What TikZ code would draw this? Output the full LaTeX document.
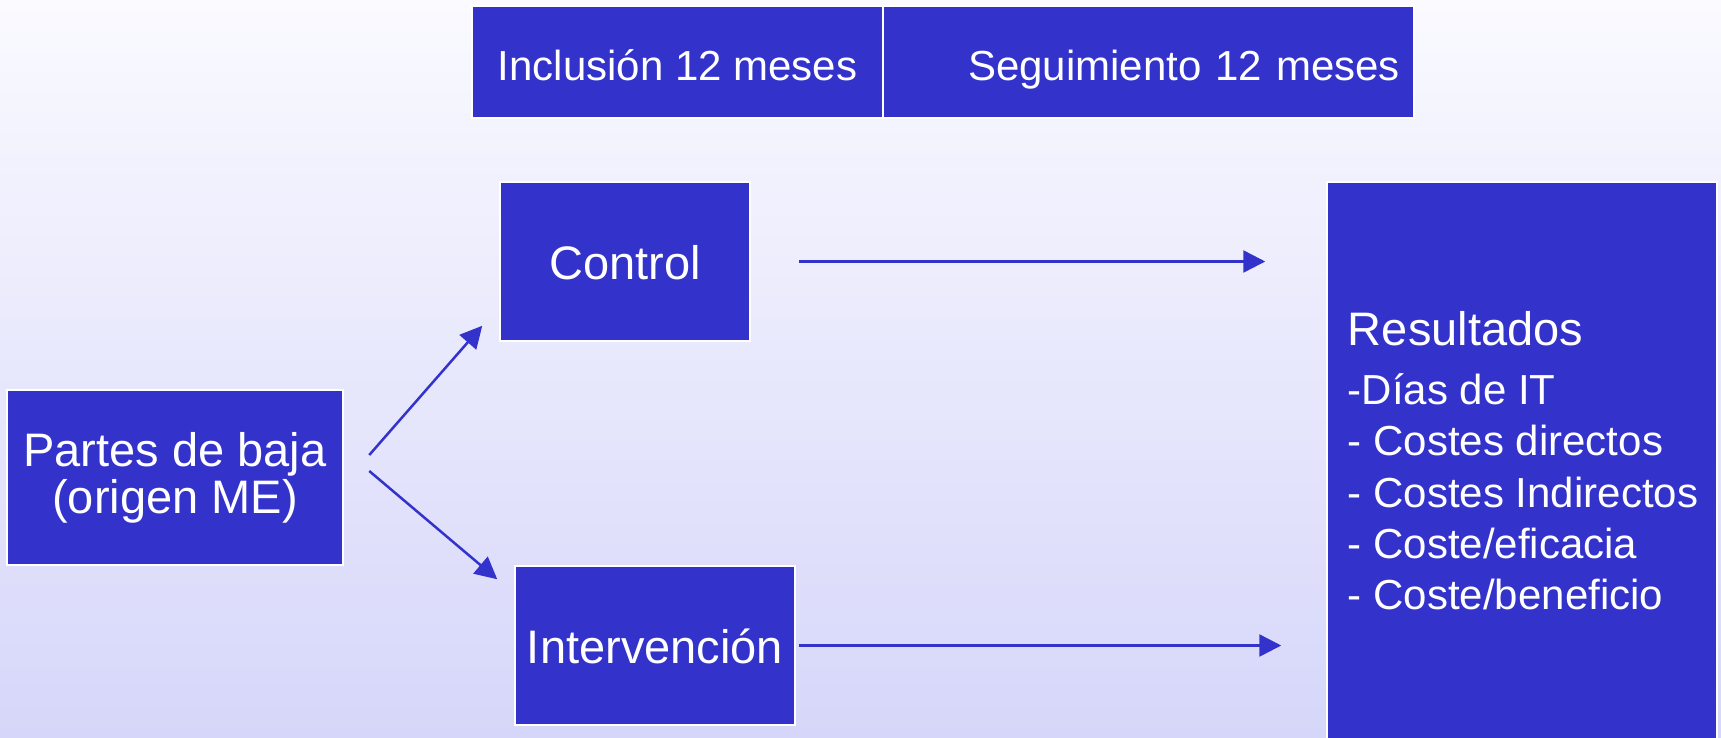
\documentclass[tikz,border=0pt]{standalone}
\usepackage{fontspec}
\setmainfont{Liberation Sans}
\usetikzlibrary{arrows.meta}
\definecolor{boxblue}{RGB}{51,51,204}
\definecolor{bgtop}{RGB}{250,250,255}
\definecolor{bgbot}{RGB}{214,214,250}
\begin{document}
\begin{tikzpicture}[x=1pt,y=-1pt,
  box/.style={rectangle, fill=boxblue, draw=white, line width=1.5pt, text=white, inner sep=0pt},
  big/.style={font=\fontsize{47}{47}\selectfont},
  small/.style={font=\fontsize{42}{42}\selectfont},
  oneline/.style={text height=36pt, text depth=0pt},
  rtext/.style={text=white, inner sep=0pt, anchor=base west},
  arr/.style={draw=boxblue, line width=2.5pt, -{Triangle[length=22pt,width=22pt]}}]
\useasboundingbox (0,0) rectangle (1721,737);
\clip (0,0) rectangle (1721,737);
\shade[top color=bgtop, bottom color=bgbot] (0,0) rectangle (1721,737);

\node[box, small, oneline, minimum width=411pt, minimum height=112pt] (incl) at (677.5,62) {Inclusión 12 meses};
\node[box, small, oneline, minimum width=531pt, minimum height=112pt, text width=503pt, align=right] (segu) at (1148.5,62) {Seguimiento 12 meses};

\node[box, big, minimum width=336pt, minimum height=175pt, align=center] (partes) at (175,477.5) {Partes de baja\\(origen ME)};
\node[box, big, oneline, minimum width=250pt, minimum height=159pt] (control) at (625,261.5) {Control};
\node[box, big, oneline, minimum width=280pt, minimum height=159pt] (interv) at (655,645.5) {Intervención};

\node[box, minimum width=390pt, minimum height=568pt] (res) at (1522,466) {};
\node[rtext, big] (rhead) at ([shift={(21.5,164.7)}]res.north west) {Resultados};
\node[rtext, small] (r1) at ([shift={(0,58.3)}]rhead.base west) {-Días de IT};
\node[rtext, small] (r2) at ([shift={(0,51.4)}]r1.base west) {- Costes directos};
\node[rtext, small] (r3) at ([shift={(0,51.4)}]r2.base west) {- Costes Indirectos};
\node[rtext, small] (r4) at ([shift={(0,51.4)}]r3.base west) {- Coste/eficacia};
\node[rtext, small] (r5) at ([shift={(0,51.4)}]r4.base west) {- Coste/beneficio};

\draw[arr] ([shift={(25.5,-22.5)}]partes.east) -- ([shift={(-17,-16)}]control.south west);
\draw[arr] ([shift={(25.5,-6.5)}]partes.east) -- ([shift={(-17,14)}]interv.north west);
\draw[arr] ([shift={(48,0)}]control.east) -- ([shift={(-61,0)}]control.east -| res.west);
\draw[arr] ([shift={(3,0)}]interv.east) -- ([shift={(-45,0)}]interv.east -| res.west);
\end{tikzpicture}
\end{document}
